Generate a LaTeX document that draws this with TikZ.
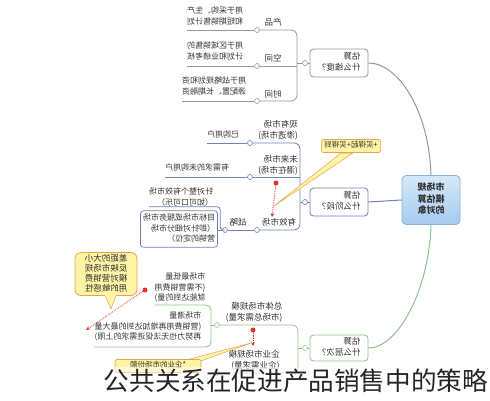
\documentclass[tikz,border=0pt]{standalone}
\usepackage{fontspec}
\setmainfont{Noto Sans CJK SC}
\usepackage{graphicx}
\usetikzlibrary{arrows.meta}
\definecolor{topc}{HTML}{8E9E8E}
\definecolor{midc}{HTML}{7480B8}
\definecolor{botc}{HTML}{8CC48C}
\definecolor{yelf}{HTML}{FFF3A6}
\definecolor{yeld}{HTML}{E0A850}
\definecolor{redd}{HTML}{E03030}
\definecolor{ctrd}{HTML}{8FB0D8}
\definecolor{ctrt}{HTML}{D6E8F8}
\definecolor{ctrb}{HTML}{A4CBEF}
\newcommand{\mt}[1]{\reflectbox{\begin{tabular}{@{}l@{}}#1\end{tabular}}}
\newcommand{\mct}[1]{\reflectbox{\begin{tabular}{@{}c@{}}#1\end{tabular}}}
\tikzset{
  tx/.style={inner sep=0pt, font=\fontsize{8}{10.5}\selectfont, text=black!80},
  lbl/.style={inner sep=0pt, font=\fontsize{8.5}{11}\selectfont, text=black!80},
  ctr/.style={draw=ctrd, line width=0.8pt, rounded corners=4pt, top color=ctrt, bottom color=ctrb, minimum width=58pt, minimum height=49pt, font=\fontsize{9}{11.5}\selectfont\bfseries, text=black!80},
  br/.style={fill=white, line width=0.8pt, rounded corners=3.5pt, minimum width=58pt, minimum height=28pt, inner sep=2pt, font=\fontsize{8.5}{11}\selectfont, text=black!80},
  dotc/.style={circle, fill=white, line width=0.6pt, minimum size=5pt, inner sep=0pt},
  rdot/.style={circle, fill=redd, minimum size=5pt, inner sep=0pt},
  tl/.style={draw=topc, line width=0.8pt},
  ml/.style={draw=midc, line width=0.8pt},
  bl/.style={draw=botc, line width=0.8pt},
  rarr/.style={draw=redd, densely dotted, line width=0.8pt, -{Stealth[length=4pt,width=3.5pt]}},
  callout/.style={fill=yelf, draw=yeld, line width=0.6pt, rounded corners=2pt, inner xsep=3pt, inner ysep=2pt, font=\fontsize{7.5}{9}\selectfont, text=black!80},
  wedge/.style={fill=yelf, draw=yeld, line width=0.5pt}
}
\begin{document}
\begin{tikzpicture}[x=1pt,y=-1pt]
\useasboundingbox (0,0) rectangle (490,400);
\fill[white] (0,0) rectangle (490,400);

% ---------- central node and branches
\node[ctr] (c) at (431,200) {\mct{市场规\\模估算\\的对象}};
\node[br, draw=topc] (b1) at (339,63) {\mt{估算\\什么维度？}};
\node[br, draw=midc] (b2) at (339,202) {\mt{估算\\什么阶段？}};
\node[br, draw=botc, minimum height=26pt] (b3) at (339,348) {\mt{估算\\什么层次？}};
\draw[tl, line width=1pt] (b1.east) .. controls (398,63) and (429,110) .. (c.north);
\draw[ml, line width=1pt] (c.west) -- (b2.east);
\draw[bl, line width=1pt] (c.south) .. controls (429,290) and (398,348) .. (b3.east);
\node[dotc, draw=topc] (d1) at (305,63) {};
\node[dotc, draw=midc] (d2) at (305,202) {};
\node[dotc, draw=botc] (d3) at (305,348) {};
\draw[tl] (d1) -- (b1);
\draw[ml] (d2) -- (b2);
\draw[bl] (d3) -- (b3);

% ---------- top branch
\node[lbl] (n11) at (273,23) {\mt{产品}};
\node[lbl] (n12) at (273,59) {\mt{空间}};
\node[lbl] (n13) at (273,95) {\mt{时间}};
\node[dotc, draw=topc] (c11) at (257,30) {};
\node[dotc, draw=topc] (c12) at (257,66) {};
\node[dotc, draw=topc] (c13) at (257,101) {};
\draw[tl, rounded corners=6pt] (c11.east) -- (297,30) -- (297,101) -- (c13.east);
\draw[tl] (c12.east) -- (297,66);
\draw[tl] (d1.west) -- (297,63);
\node[tx] (g11) at (215,17) {\mt{用于采购、生产\\和短期销售计划}};
\node[tx] (g12) at (215,52) {\mt{用于区域销售的\\计划和业绩考核}};
\node[tx] (g13) at (214,87) {\mt{用于战略规划和资\\源配置、长期融资}};
\draw[tl] (c11.west) -- (c11.west -| g11.west);
\draw[tl] (c12.west) -- (c12.west -| g12.west);
\draw[tl] (c13.west) -- (c13.west -| g13.west);

% ---------- middle branch
\node[lbl] (n21) at (278,131) {\mt{现有市场\\(渗透市场)}};
\node[lbl] (n22) at (278,166) {\mt{未来市场\\(潜在市场)}};
\node[lbl] (n23) at (279,223) {\mt{有效市场}};
\node[lbl] (n24) at (238,223) {\mt{战略}};
\node[dotc, draw=midc] (c21) at (250,143) {};
\node[dotc, draw=midc] (c22) at (250,177) {};
\node[dotc, draw=midc] (c23) at (257,230) {};
\node[dotc, draw=midc] (c24) at (225,230) {};
\draw[ml, rounded corners=6pt] (c21.east) -- (300,143) -- (300,230) -- (c23.east);
\draw[ml] (c22.east) -- (300,177);
\draw[ml] (d2.west) -- (300,202);
\draw[ml] (c23.west) -- (c24.east);
\node[tx] (g21) at (223,135) {\mt{已购用户}};
\node[tx] (g22) at (197,168) {\mt{有需求的未购用户}};
\draw[ml] (c21.west) -- (c21.west -| g21.west);
\draw[ml] (c22.west) -- (c22.west -| g22.west);
\node[tx] (g24a) at (181,198) {\mt{针对整个有效市场\\（如可口可乐）}};
\node[tx, draw=midc, line width=0.7pt, rounded corners=3pt, inner sep=2.5pt] (g24b) at (179,229) {\mt{目标市场或服务市场\\（即针对细分市场\\营销的定位）}};
\draw[ml] (c24.west) -- (g24b.east |- c24.west);
\draw[ml, rounded corners=3pt] (c24.west) -- ++(-2,0) |- ([yshift=2pt]g24a.south west);
\node[rdot] (r1) at (276,183) {};
\coordinate (a1) at (272,217);
\draw[rarr] (r1) -- (a1);
\draw[wedge] (341,153) -- (353,153) -- (274,206) -- cycle;
\node[callout] (y1) at (351,146) {\mt{+买得起+买得到}};

% ---------- bottom branch
\node[lbl] (n31) at (254,313) {\mt{总体市场规模\\(市场总需求量)}};
\node[lbl] (n32) at (254,361) {\mt{企业市场规模\\(企业需求量)}};
\node[dotc, draw=botc] (c31) at (217,325) {};
\node[dotc, draw=botc] (c32) at (217,373) {};
\draw[bl, rounded corners=6pt] (c31.east) -- (298,325) -- (298,373) -- (c32.east);
\draw[bl] (d3.west) -- (298,348);
\node[rdot] (r3) at (253,330) {};
\coordinate (a3) at (253,346);
\draw[rarr] (r3) -- (a3);
\node[tx] (g31) at (180,288) {\mt{市场最低量\\(不需营销费用\\就能达到的量)}};
\node[tx] (g32) at (148,327) {\mt{市场潜量\\(营销费用再增加达到的最大量\\再努力也无法促进需求的上限)}};
\draw[bl, rounded corners=5pt] (g31.south west |- 0,305) -- (211,305) -- (211,347) -- (g32.south west |- 0,347);
\draw[bl] (c31.west) -- (211,325);
% speech bubble
\draw[wedge] (104,293) -- (117,293) -- (111,309) -- cycle;
\node[fill=yelf, draw=yeld, line width=0.8pt, rounded corners=6pt, minimum width=62pt, minimum height=43pt, inner sep=1pt, font=\fontsize{8.5}{9.5}\selectfont, text=black!80] (sb) at (106,274) {\mct{差距的大小\\反映市场规\\模对营销费\\用的敏感性}};
\fill[yelf] (105,291) rectangle (116,295.5);
\node[rdot] (r2) at (145,290) {};
\coordinate (a2) at (86,330);
\draw[rarr] (r2) -- (a2);
% bottom callout
\draw[wedge] (186,360) -- (198,362) -- (251,343) -- cycle;
\node[callout, minimum width=86pt] (y2) at (158,366) {\mt{*企业的市场份额}};

% ---------- caption
\fill[white, opacity=0.55] (98,367) rectangle (490,398);
\node[inner sep=0pt, anchor=east, font=\fontsize{25.6}{25.6}\selectfont, text=black!85] (cap) at (488,381) {公共关系在促进产品销售中的策略};
\end{tikzpicture}
\end{document}
